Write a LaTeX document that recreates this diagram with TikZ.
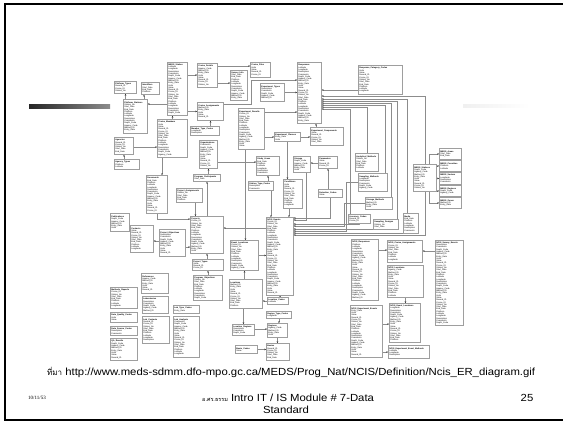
\documentclass[tikz,border=0pt]{standalone}
\usepackage{fontspec}
\setmainfont{Liberation Sans}
\newfontfamily\thaifont[Script=Thai]{Loma}
\newfontfamily\footfont[FakeStretch=1.1]{Liberation Sans}
\newfontfamily\datefont{Liberation Serif}
\usetikzlibrary{arrows.meta,backgrounds}

% field lines for the entity boxes
\newcount\fldi
\newcount\fldn
\newcount\fldk
\newdimen\entw
\newcommand\fieldname{\fldk=\fldi \divide\fldk by 16 \multiply\fldk by -16 \advance\fldk by \fldi
  \mbox{\ifcase\fldk Record\_ID\or Cruise\_ID\or Station\_No\or Start\_Date\or End\_Date\or Platform\or Latitude\or Longitude\or Description\or Comments\or Depth\_Code\or Agency\_Code\or Method\_ID\or Entry\_Date\or Units\or Value\fi}}
\newcommand\fields[1]{\fldn=#1\relax\fldloop}
\newcommand\fldloop{\ifnum\fldn>0 \par\fieldname\global\advance\fldi by 1\relax\advance\fldn by -1\relax\expandafter\fldloop\fi}
% name, x, y, width, height, title, number of fields
\newcommand\ent[7]{\entw=#4pt \advance\entw by -2pt
  \node[tbl,minimum width=#4pt,minimum height=#5pt,text width=\the\entw] (#1) at (#2,#3) {\textbf{#6}\fields{#7}};}

\begin{document}
\begin{tikzpicture}[
  x=1pt,y=-1pt,
  tbl/.style={draw=black!38,line width=0.9pt,fill=white,anchor=north west,inner sep=1pt,align=left,
    font=\fontsize{2.1}{2.3}\selectfont},
  fk/.style={draw=black!45,line width=0.5pt,-{Stealth[length=1.6pt,width=1.6pt,color=black!85]}},
  foot/.style={font=\footfont\fontsize{10.3}{12}\selectfont,inner sep=0pt},
  ]
  \useasboundingbox (0,0) rectangle (563,424);
  \draw[line width=1.6pt] (567,4) -- (5,4) -- (5,420) -- (567,420);
  \shade[left color=black!85,right color=black!45] (29,104) rectangle (110,108);
  \shade[left color=black!6,right color=white] (463,104) rectangle (530,107);

  % upper left group
  \ent{ptyp}{114}{81}{22}{12}{Platform\_Types}{3}
  \ent{idn}{141}{82}{18}{12}{Identifiers}{3}
  \ent{meds}{167}{62}{20}{53}{MEDS\_Station}{21}
  \ent{crdet}{197}{63}{20}{24}{Cruise\_Details}{8}
  \ent{sens}{230}{70}{17}{30}{Sensor\_Info}{11}
  \ent{crfl}{250}{62}{20}{15}{Cruise\_Files}{4}
  \ent{plst}{123}{99}{24}{34}{Platform\_Stations}{12}
  \ent{crmem}{157}{119}{30}{38}{Cruise\_Members}{14}
  \ent{crass}{197}{102}{26}{18}{Cruise\_Assignments}{5}
  \ent{expr}{238}{108}{26}{41}{Experiment\_Results}{15}
  \ent{agen}{114}{137}{19}{17}{Agencies}{5}
  \ent{agty}{114}{159}{25}{10}{Agency\_Types}{2}
  \ent{mtyp}{190}{126}{29}{9}{Member\_Type\_Codes}{2}
  \ent{orgn}{199}{140}{18}{28}{Organizations}{10}
  \ent{prpart}{193}{174}{27}{7}{Program\_Participants}{1}
  \ent{docs}{146}{175}{21}{38}{Documents}{14}
  \ent{prjas}{176}{188}{26}{14}{Project\_Assignments}{4}

  % upper right group
  \ent{resp}{297}{62}{24}{61}{Responses}{24}
  \ent{resc}{358}{65}{44}{29}{Response\_Category\_Codes}{10}
  \ent{expty}{260}{83}{24}{18}{Experiment\_Types}{5}
  \ent{expcl}{274}{132}{26}{9}{Experiment\_Classes}{2}
  \ent{expcm}{310}{127}{33}{18}{Experiment\_Components}{5}
  \ent{stud}{256}{156}{23}{19}{Study\_Areas}{6}
  \ent{stor}{293}{156}{17}{16}{Storage}{5}
  \ent{parm}{318}{156}{19}{12}{Parameters}{3}
  \ent{anm}{355}{153}{23}{18}{Analytical\_Methods}{5}
  \ent{smeth}{358}{173}{29}{18}{Sampling\_Methods}{5}
  \ent{stm}{365}{197}{27}{12}{Storage\_Methods}{3}
  \ent{detc}{318}{189}{24}{8}{Detection\_Codes}{1}
  \ent{accu}{348}{214}{22}{9}{Accuracy\_Codes}{2}
  \ent{sdes}{373}{219}{25}{10}{Sampling\_Designs}{2}
  \ent{media}{403}{213}{15}{20}{Media}{6}
  \ent{mst}{413}{164}{23}{27}{MEDS\_Stations}{9}
  \ent{ma1}{439}{148}{22}{11}{MEDS\_Areas}{2}
  \ent{ma2}{439}{160}{22}{11}{MEDS\_Countries}{2}
  \ent{ma3}{439}{172}{22}{12}{MEDS\_Sectors}{3}
  \ent{ma4}{439}{185}{22}{11}{MEDS\_Regions}{2}
  \ent{ma5}{439}{197}{22}{11}{MEDS\_Zones}{2}
  \ent{cond}{283}{179}{19}{29}{Conditions}{10}
  \ent{sttc}{248}{181}{25}{9}{Station\_Type\_Codes}{2}

  % lower left group
  \ent{publ}{110}{213}{19}{18}{Publications}{5}
  \ent{cont}{130}{225}{23}{27}{Contacts}{9}
  \ent{pobj}{159}{229}{26}{27}{Project\_Objectives}{9}
  \ent{proj}{190}{216}{33}{37}{Projects}{14}
  \ent{ptypes}{192}{259}{31}{11}{Project\_Types}{3}
  \ent{probj}{193}{275}{29}{25}{Program\_Objectives}{9}
  \ent{refs}{141}{273}{27}{20}{References}{6}
  \ent{mrep}{110}{287}{27}{21}{Methods\_Reports}{7}
  \ent{labs}{142}{296}{26}{17}{Laboratories}{5}
  \ent{ltc}{173}{305}{26}{8}{Lab\_Type\_Codes}{1}
  \ent{dqc}{110}{312}{27}{10}{Data\_Quality\_Codes}{2}
  \ent{lcon}{142}{316}{27}{27}{Lab\_Contacts}{9}
  \ent{lana}{173}{316}{26}{41}{Lab\_Analysts}{15}
  \ent{dsc}{110}{326}{27}{9}{Data\_Source\_Codes}{2}
  \ent{qar}{110}{338}{27}{22}{QA\_Results}{7}

  % lower middle group
  \ent{ne}{266}{217}{27}{78}{NCIS\_Events}{32}
  \ent{el}{230}{240}{28}{30}{Event\_Locations}{11}
  \ent{loc}{229}{279}{33}{29}{Locations}{10}
  \ent{lcod}{267}{297}{21}{7}{Location\_Codes}{1}
  \ent{rtyp}{266}{311}{25}{7}{Region\_Type\_Codes}{1}
  \ent{lreg}{232}{324}{22}{11}{Location\_Regions}{3}
  \ent{reg}{267}{323}{20}{14}{Regions}{4}
  \ent{bcod}{235}{345}{22}{8}{Basin\_Codes}{1}
  \ent{bas}{266}{343}{23}{17}{Basins}{5}

  % lower right group
  \ent{nr}{351}{239}{27}{61}{NCIS\_Responses}{24}
  \ent{nee}{350}{305}{32}{52}{NCIS\_Experiment\_Events}{20}
  \ent{nca}{387}{240}{35}{22}{NCIS\_Cruise\_Assignments}{7}
  \ent{nse}{435}{240}{28}{85}{NCIS\_Survey\_Events}{35}
  \ent{nl}{387}{265}{36}{32}{NCIS\_Locations}{12}
  \ent{nel}{389}{303}{31}{39}{NCIS\_Event\_Locations}{15}
  \ent{neem}{388}{345}{41}{13}{NCIS\_Experiment\_Event\_Methods}{3}

  \coordinate (idnx) at ([xshift=3pt]idn.south west);
  \coordinate (crmx) at ([xshift=5pt]crmem.south west);
  \coordinate (prjx) at ([xshift=6pt]prjas.south);
  \coordinate (ecmx) at ([xshift=6pt]expcm.north west);
  \coordinate (exrx) at ([xshift=-6pt]expr.south);
  \coordinate (sttx) at ([xshift=-3pt]sttc.south east);
  \coordinate (cndx) at ([xshift=-4pt]cond.south);

  \begin{scope}[on background layer]
    % upper left links
    \draw[fk] (ptyp.south|-plst.north) -- (ptyp.south);
    \draw[fk] (idnx|-plst.north) -- (idnx);
    \draw[fk] (meds.west|-0,104) -- (plst.east|-0,104);
    \draw[fk] (meds.east|-0,75) -- (crdet.west|-0,75);
    \draw[fk] (crdet.east|-0,66) -- (crfl.west|-0,66);
    \draw[fk] (crdet.east|-0,83) -- (sens.west|-0,83);
    \draw[fk] (meds.east|-crass.west) -- (crass.west);
    \draw[fk] (crmem.north) -- (crmem.north|-meds.south);
    \draw[fk] (agen.east|-0,147) -- (crmem.west|-0,147);
    \draw[fk] (agen.south|-agty.north) -- (agen.south);
    \draw[fk] (crmx) -- (crmx|-docs.north);
    \draw[fk] (crass.south|-mtyp.north) -- (crass.south);
    \draw[fk] (orgn.east|-0,162) -- (stud.west|-0,162);
    \draw[fk] (orgn.south|-prpart.north) -- (orgn.south);
    \draw[fk] (prpart.south|-proj.north) -- (prpart.south);
    \draw[fk] (prjx) -- (prjx|-proj.north);
    \draw[fk] (docs.south) |- (proj.west|-0,219);
    \draw[fk] (pobj.east|-0,247) -- (proj.west|-0,247);
    \draw[fk] (pobj.west|-0,241) -- (cont.east|-0,241);
    \draw[fk] (proj.south|-ptypes.north) -- (proj.south);
    \draw[fk] (ptypes.south|-probj.north) -- (ptypes.south);
    % upper right links
    \draw[fk] ([yshift=-2pt]crass.north east) -- ++(27,0) |- (resp.west|-0,80);
    \draw[fk] (expty.east) -- (resp.west|-expty.east);
    \draw[fk] (expr.east|-0,112) -- (resp.west|-0,112);
    \draw[fk] (resc.west|-0,90) -- (resp.east|-0,90);
    \draw[fk] (expr.east|-expcl.west) -- (expcl.west);
    \draw[fk] (expcl.east) -- (expcm.west|-expcl.east);
    \draw[fk] (ecmx) -- (ecmx|-resp.south);
    \draw[fk] (exrx) -- (exrx|-el.north);
    \draw[fk] (stud.south|-sttc.north) -- (stud.south);
    \draw[fk] (sttx) -- (sttx|-ne.north);
    \draw[fk] (expcl.south) -- (expcl.south|-cond.north);
    \draw[fk] (cndx) -- (cndx|-ne.north);
    \draw[fk] (parm.west|-0,163) -- (stor.east|-0,163);
    \draw[fk] (parm.south|-detc.north) -- (parm.south);
    \draw[fk] (mst.north) |- (resp.east|-0,96);
    \draw[fk] ([xshift=-4pt]media.north) |- (resp.east|-0,99);
    \draw[fk] ([xshift=-2pt]sdes.north east) |- (resp.east|-0,101);
    \draw[fk] ([xshift=-2pt]stm.north east) |- (resp.east|-0,103);
    \draw[fk] ([xshift=-3pt]smeth.north east) |- (resp.east|-0,105);
    \draw[fk] (anm.north) |- (resp.east|-0,107);
    \draw[fk] ([xshift=2pt]accu.north west) |- (resp.east|-0,109);
    \draw[fk] ([xshift=4pt]mst.north) |- (ma1.west);
    \draw[fk] (mst.east|-ma2.west) -- (ma2.west);
    \draw[fk] (mst.east|-ma3.west) -- (ma3.west);
    \draw[fk] (mst.east|-ma4.west) -- (ma4.west);
    \draw[fk] ([xshift=4pt]mst.south) |- (ma5.west);
    % links into the events table
    \draw[fk] (detc.south) |- (ne.east|-0,218);
    \draw[fk] ([xshift=4pt]stor.south) |- (ne.east|-0,220);
    \draw[fk] (accu.south) |- (ne.east|-0,224);
    \draw[fk] (stm.west) -- ++(-21,0) |- (ne.east|-0,226);
    \draw[fk] (sdes.south) |- (ne.east|-0,229);
    \draw[fk] (smeth.west) -- ++(-12,0) |- (ne.east|-0,231);
    \draw[fk] (media.south) |- (ne.east|-0,233);
    \draw[fk] (mst.south) |- (ne.east|-0,235);
    % lower middle links
    \draw[fk] (el.east) -- (ne.west|-el.east);
    \draw[fk] (ne.west|-0,228) -- (proj.east|-0,228);
    \draw[fk] (el.south|-loc.north) -- (el.south);
    \draw[fk] (lcod.west) -- (loc.east|-lcod.west);
    \draw[fk] (lreg.north|-loc.south) -- (lreg.north);
    \draw[fk] (lreg.east|-0,329) -- (reg.west|-0,329);
    \draw[fk] (rtyp.south) -- (rtyp.south|-reg.north);
    \draw[fk] (reg.south) -- (reg.south|-bas.north);
    \draw[fk] (bcod.east) -- (bas.west|-bcod.east);
    \draw[fk] (ne.south) -- (ne.south|-lcod.north);
    % lower right links
    \draw[fk] (nr.east|-0,250) -- (nca.west|-0,250);
    \draw[fk] (nse.west|-0,251) -- (nca.east|-0,251);
    \draw[fk] (nl.south) -- (nl.south|-nel.north);
    \draw[fk] (nee.east|-0,324) -- (nel.west|-0,324);
    \draw[fk] (nee.east|-0,352) -- (neem.west|-0,352);
  \end{scope}

  % slide footer
  \node[foot,anchor=west] (src) at (47,372)
    {{\thaifont\fontsize{8}{9}\selectfont ที่มา} http://www.meds-sdmm.dfo-mpo.gc.ca/MEDS/Prog\_Nat/NCIS/Definition/Ncis\_ER\_diagram.gif};
  \node[foot,anchor=west,font=\fontsize{5}{6}\selectfont\datefont] (date) at (28,398) {10/11/53};
  \node[foot,anchor=west] (module) at (202,398) {{\thaifont\fontsize{5.5}{6}\selectfont อ.ศร.ธรรม} Intro IT / IS Module \# 7-Data};
  \node[foot] (std) at (286,410) {Standard};
  \node[foot] (page) at (527,398) {25};
\end{tikzpicture}
\end{document}
